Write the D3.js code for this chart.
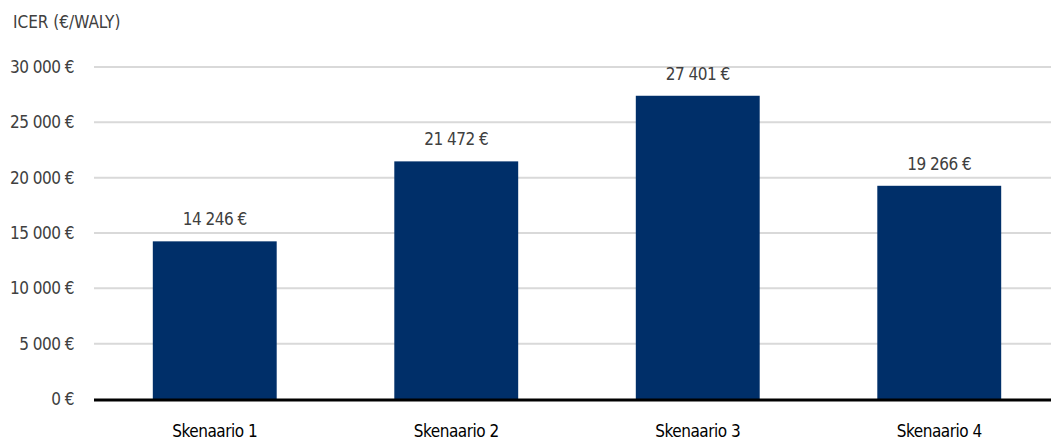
<html><head>
<script src="https://d3js.org/d3.v7.min.js"></script>
<style>
  body { margin: 0; background: white; }
  text { font-family: "Liberation Sans Narrow", "DejaVu Sans Condensed", sans-serif; letter-spacing: -0.5px; }
  #title { letter-spacing: 0; }
</style>
</head>
<body>
<svg id="chart" width="1051" height="441"></svg>
<script>
const scenarios = ["Skenaario 1", "Skenaario 2", "Skenaario 3", "Skenaario 4"];
const icer = [14246, 21472, 27401, 19266];
const yTicks = [0, 5000, 10000, 15000, 20000, 25000, 30000];

const svg = d3.select("svg#chart");
const margin = { top: 67, right: -9, bottom: 42, left: 94 };
const width = svg.attr("width") - margin.left - margin.right;
const height = svg.attr("height") - margin.top - margin.bottom;

const fmt = v => d3.format(",")(v).replace(/,/g, " ") + " €";

const x = d3.scaleBand().domain(scenarios).range([0, width]).padding(0);
const y = d3.scaleLinear().domain([0, 30000]).range([height, 0]);
const barW = x.bandwidth() * 0.513;

const g = svg.append("g").attr("transform", `translate(${margin.left},${margin.top})`);

// gridlines
g.selectAll("line.grid").data(yTicks.filter(d => d > 0))
  .join("line")
  .attr("class", "grid")
  .attr("x1", 0).attr("x2", width)
  .attr("y1", d => y(d)).attr("y2", d => y(d))
  .attr("stroke", "#d9d9d9")
  .attr("stroke-width", 2);

// y labels
g.selectAll("text.ytick").data(yTicks)
  .join("text")
  .attr("class", "ytick")
  .attr("x", -20)
  .attr("y", d => y(d) + 6)
  .attr("text-anchor", "end")
  .attr("font-size", "17px")
  .attr("fill", "#404040")
  .text(fmt);

// bars
g.selectAll("rect.bar").data(icer)
  .join("rect")
  .attr("class", "bar")
  .attr("x", (d, i) => x(scenarios[i]) + (x.bandwidth() - barW) / 2)
  .attr("width", barW)
  .attr("y", d => y(d))
  .attr("height", d => height - y(d))
  .attr("fill", "#002f69");

// value labels
g.selectAll("text.val").data(icer)
  .join("text")
  .attr("class", "val")
  .attr("x", (d, i) => x(scenarios[i]) + x.bandwidth() / 2)
  .attr("y", d => y(d) - 16)
  .attr("text-anchor", "middle")
  .attr("font-size", "17px")
  .attr("fill", "#404040")
  .text(fmt);

// baseline
g.append("line")
  .attr("x1", 0).attr("x2", width)
  .attr("y1", height + 1).attr("y2", height + 1)
  .attr("stroke", "black")
  .attr("stroke-width", 3);

// category labels
g.selectAll("text.cat").data(scenarios)
  .join("text")
  .attr("class", "cat")
  .attr("x", d => x(d) + x.bandwidth() / 2)
  .attr("y", height + 38)
  .attr("text-anchor", "middle")
  .attr("font-size", "17px")
  .attr("fill", "black")
  .text(d => d);

// axis title
svg.append("text")
  .attr("id", "title")
  .attr("x", 13)
  .attr("y", 28)
  .attr("font-size", "17px")
  .attr("fill", "#404040")
  .text("ICER (€/WALY)");
</script>
</body>
</html>
